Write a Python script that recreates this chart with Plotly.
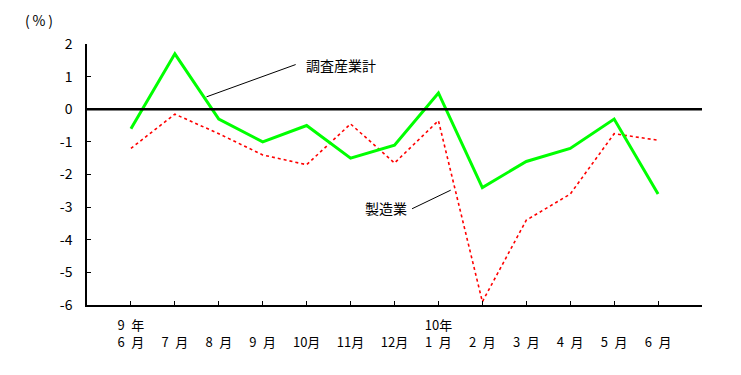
import plotly.graph_objects as go

months = ["6\u2002月", "7\u2002月", "8\u2002月", "9\u2002月", "10月", "11月", "12月", "1\u2002月", "2\u2002月", "3\u2002月", "4\u2002月", "5\u2002月", "6\u2002月"]
years = ["9\u2002年", "", "", "", "", "", "", "10年", "", "", "", "", ""]
total = [-0.6, 1.7, -0.3, -1.0, -0.5, -1.5, -1.1, 0.5, -2.4, -1.6, -1.2, -0.3, -2.6]
manufacturing = [-1.2, -0.15, -0.75, -1.4, -1.7, -0.45, -1.65, -0.35, -5.9, -3.4, -2.6, -0.75, -0.95]
y_ticks = [2, 1, 0, -1, -2, -3, -4, -5, -6]
y_tick_text = ["2", "1", "0", "-1", "-2", "-3", "-4", "-5", "-6"]

FONT = "Noto Sans CJK JP"
x = list(range(len(months)))
tick_text = [(y if y else "\u3000") + "<br>" + m for y, m in zip(years, months)] + [""]

fig = go.Figure()
fig.add_trace(go.Scatter(x=x, y=manufacturing, mode="lines",
                         line=dict(color="#ff0000", width=1.6, dash="dot"), name="製造業"))
fig.add_trace(go.Scatter(x=x, y=total, mode="lines",
                         line=dict(color="#00ff00", width=3), name="調査産業計"))

fig.add_shape(type="line", xref="x", yref="y", x0=-1, x1=13, y0=0, y1=0,
              line=dict(color="black", width=2.5), layer="above")

# callout lines and labels
fig.add_shape(type="line", xref="x", yref="y", x0=1.72, y0=0.38, x1=3.75, y1=1.37,
              line=dict(color="black", width=1))
fig.add_annotation(x=3.93, y=1.35, xref="x", yref="y", text="調査産業計", showarrow=False,
                   xanchor="left", yanchor="middle", font=dict(family=FONT, size=14, color="black"))
fig.add_shape(type="line", xref="x", yref="y", x0=6.4, y0=-3.05, x1=7.28, y1=-2.48,
              line=dict(color="black", width=1))
fig.add_annotation(x=6.32, y=-3.03, xref="x", yref="y", text="製造業", showarrow=False,
                   xanchor="right", yanchor="middle", font=dict(family=FONT, size=14, color="black"))

fig.add_annotation(x=0, y=1, xref="paper", yref="paper", xshift=-64, yshift=12,
                   text="(\u2009%\u2009)", showarrow=False, xanchor="left", yanchor="bottom",
                   font=dict(family=FONT, size=14, color="black"))

fig.update_layout(
    width=733, height=367,
    margin=dict(l=79, r=39, t=36, b=70, autoexpand=False),
    plot_bgcolor="white", paper_bgcolor="white",
    showlegend=False,
    font=dict(family=FONT, size=13, color="black"),
    xaxis=dict(range=[-1, 13], tickvals=list(range(14)), ticktext=tick_text, automargin=False,
               showgrid=False, zeroline=False, showline=True, linecolor="black", linewidth=1.5,
               ticks="inside", ticklen=4, tickcolor="black", tickwidth=1, ticklabelstandoff=8,
               tickfont=dict(family=FONT, size=13)),
    yaxis=dict(range=[-6, 2], tickvals=y_ticks, ticktext=y_tick_text, automargin=False,
               showgrid=False, zeroline=False, showline=True, linecolor="black", linewidth=1.5,
               ticks="inside", ticklen=4, tickcolor="black", tickwidth=1, ticklabelstandoff=10,
               tickfont=dict(family=FONT, size=14)),
)

fig.write_html("out.html")
